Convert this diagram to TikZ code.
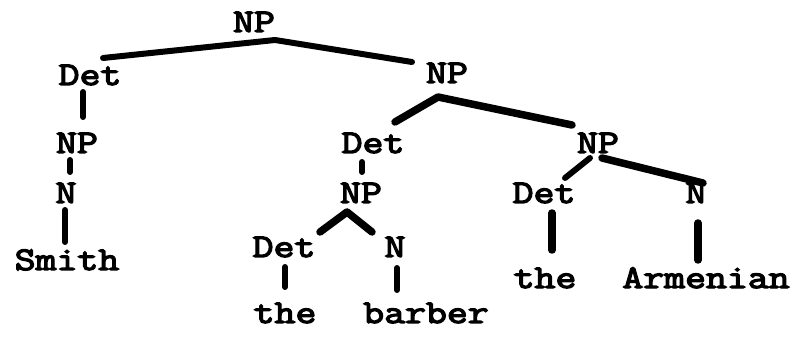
\documentclass[tikz,border=0pt]{standalone}
\usepackage{fontspec}
\newfontfamily\tw[FakeStretch=1.23,FakeBold=4]{Latin Modern Mono}
\usetikzlibrary{calc}
\begin{document}
\begin{tikzpicture}[x=1pt,y=-1pt,
  lbl/.style={font=\tw\fontsize{33}{33}\selectfont, inner sep=0pt, anchor=base},
  edge/.style={line width=6pt, line cap=round, line join=round},
  heavy/.style={edge, line width=7.5pt}]
\useasboundingbox (0,0) rectangle (801,339);
% nodes
\node[lbl] (np0) at (254,32) {NP};
\node[lbl] (det1) at (90,85) {Det};
\node[lbl] (np1) at (77,153) {NP};
\node[lbl] (n1) at (66,203) {N};
\node[lbl] (smith) at (67,270) {Smith};
\node[lbl] (np2) at (447,83) {NP};
\node[lbl] (det2) at (373,153) {Det};
\node[lbl] (np3) at (598,153) {NP};
\node[lbl] (np4) at (361,203) {NP};
\node[lbl] (det4) at (284,257) {Det};
\node[lbl] (n4) at (395,257) {N};
\node[lbl] (the1) at (285,323) {the};
\node[lbl] (barber) at (426,323) {barber};
\node[lbl] (det3) at (544,203) {Det};
\node[lbl] (n3) at (696,203) {N};
\node[lbl] (the2) at (545,288) {the};
\node[lbl] (armenian) at (706,288) {Armenian};
% connectors
\draw[edge] ($(det1.base)+(13,-27)$) -- ($(np0.base)+(21,8)$) -- ($(np2.base)+(-35,-21)$);
\draw[edge] ($(det1.base)+(-7,7)$) -- ($(np1.base)+(6,-36)$);
\draw[edge] ($(np1.base)+(-7,7)$) -- ($(n1.base)+(4,-31)$);
\draw[edge] ($(n1.base)+(-1,7)$) -- ($(smith.base)+(-2,-28)$);
\draw[heavy] ($(det2.base)+(22,-31)$) -- ($(np2.base)+(-9,14)$) -- ($(np3.base)+(-26,-28)$);
\draw[edge] ($(np3.base)+(-8,5)$) -- ($(det3.base)+(21,-25)$);
\draw[heavy] ($(np3.base)+(4,5)$) -- ($(n3.base)+(7,-20)$);
\draw[edge] ($(det2.base)+(-11,9)$) -- ($(np4.base)+(1,-31)$);
\draw[heavy] ($(det4.base)+(36,-25)$) -- ($(np4.base)+(-14,9)$) -- ($(n4.base)+(-23,-25)$);
\draw[edge] ($(det4.base)+(1,10)$) -- ($(the1.base)+(0,-36)$);
\draw[edge] ($(n4.base)+(2,11)$) -- ($(barber.base)+(-29,-33)$);
\draw[heavy] ($(det3.base)+(8,10)$) -- ($(the2.base)+(7,-38)$);
\draw[heavy] ($(n3.base)+(2,20)$) -- ($(armenian.base)+(-8,-28)$);
\end{tikzpicture}
\end{document}
